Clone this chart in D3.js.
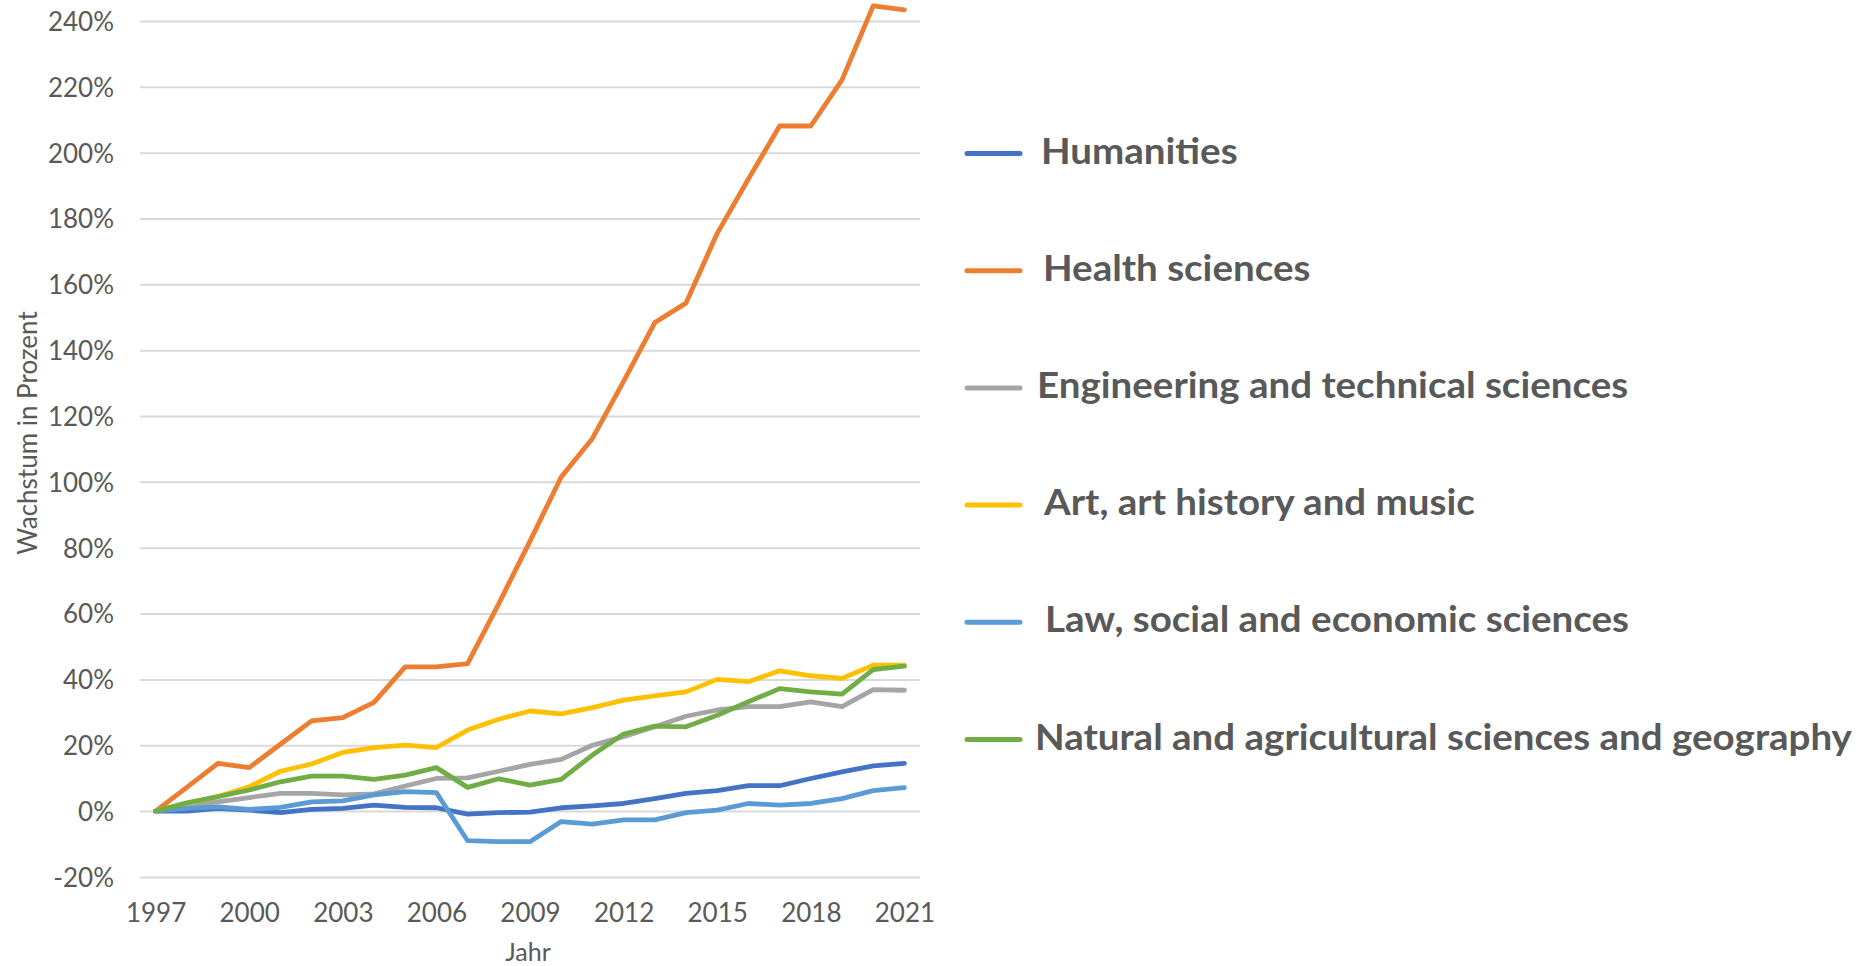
<!DOCTYPE html>
<html>
<head>
<meta charset="utf-8">
<script src="https://cdn.jsdelivr.net/npm/d3@7"></script>
<style>
  html, body { margin: 0; padding: 0; background: #ffffff; }
  svg { display: block; }
  text { font-family: Lato, "Open Sans", "DejaVu Sans", sans-serif; fill: #595959; }
</style>
</head>
<body>
<svg id="chart" width="1862" height="966"></svg>
<script>
// ---------- data ----------
const years = [1997, 1998, 1999, 2000, 2001, 2002, 2003, 2004, 2005, 2006, 2007, 2008,
               2009, 2010, 2011, 2012, 2013, 2014, 2015, 2016, 2017, 2018, 2019, 2020, 2021];
const xTickLabels = [1997, 2000, 2003, 2006, 2009, 2012, 2015, 2018, 2021];
const yTickValues = [-20, 0, 20, 40, 60, 80, 100, 120, 140, 160, 180, 200, 220, 240];

const seriesNames = [
  "Humanities",
  "Health sciences",
  "Engineering and technical sciences",
  "Art, art history and music",
  "Law, social and economic sciences",
  "Natural and agricultural sciences and geography"
];
const seriesColors = ["#4472C4", "#ED7D31", "#A5A5A5", "#FFC000", "#5B9BD5", "#70AD47"];

const humanities  = [0, 0, 0.8, 0.3, -0.5, 0.5, 0.8, 1.8, 1.1, 1.0, -0.9, -0.5, -0.3,
                     1.0, 1.6, 2.3, 3.8, 5.4, 6.2, 7.7, 7.7, 9.9, 11.9, 13.7, 14.5];
const health      = [0, 7.2, 14.5, 13.2, 20.3, 27.4, 28.4, 33.0, 43.8, 43.8, 44.8, 63.0, 82.0,
                     101.5, 113.2, 130.5, 148.4, 154.3, 175.5, 192.0, 208.1, 208.1, 222.1, 244.6, 243.4];
const engineering = [0, 1.7, 2.8, 4.1, 5.4, 5.4, 4.9, 5.2, 7.6, 9.9, 10.1, 12.1, 14.2,
                     15.7, 20.0, 22.6, 25.6, 28.8, 30.7, 31.7, 31.7, 33.2, 31.7, 36.9, 36.7];
const art         = [0, 2.3, 4.4, 7.4, 12.1, 14.3, 17.8, 19.3, 20.0, 19.3, 24.6, 27.9, 30.4,
                     29.5, 31.4, 33.7, 35.0, 36.2, 40.0, 39.3, 42.6, 41.1, 40.3, 44.3, 44.3];
const law         = [0, 0.8, 1.3, 0.5, 1.1, 2.8, 3.1, 4.9, 5.9, 5.6, -9.0, -9.3, -9.3,
                     -3.2, -4.0, -2.7, -2.7, -0.5, 0.3, 2.3, 1.8, 2.3, 3.8, 6.2, 7.1];
const natural     = [0, 2.5, 4.4, 6.4, 8.9, 10.6, 10.6, 9.6, 10.9, 13.2, 7.2, 9.8, 7.9,
                     9.6, 17.0, 23.4, 25.8, 25.6, 29.1, 33.2, 37.2, 36.2, 35.5, 43.0, 44.0];

const seriesValues = [humanities, health, engineering, art, law, natural];

// ---------- layout ----------
const svg = d3.select("#chart");
const plot = { left: 140, right: 920, top: 21.0, bottom: 876.9 };

const x = d3.scalePoint().domain(years).range([plot.left, plot.right]).padding(0.5);
const y = d3.scaleLinear().domain([-20, 240]).range([plot.bottom, plot.top]);

// gridlines + y labels via axis
const yAxis = d3.axisLeft(y)
  .tickValues(yTickValues)
  .tickSize(-(plot.right - plot.left))
  .tickPadding(26)
  .tickFormat(d => d + "%");

const gy = svg.append("g")
  .attr("transform", `translate(${plot.left},0)`)
  .call(yAxis);
gy.select(".domain").remove();
gy.selectAll(".tick line").attr("stroke", "#d9d9d9").attr("stroke-width", 2);
gy.selectAll(".tick text")
  .attr("font-size", 26)
  .attr("fill", "#595959")
  .attr("dy", "0.36em")
  .style("font-family", "Lato, 'Open Sans', sans-serif");

// x axis labels
const xAxis = d3.axisBottom(x)
  .tickValues(xTickLabels)
  .tickSize(0)
  .tickPadding(0)
  .tickFormat(d => String(d));
const gx = svg.append("g")
  .attr("transform", `translate(0,${plot.bottom})`)
  .call(xAxis);
gx.select(".domain").remove();
gx.selectAll(".tick text")
  .attr("font-size", 26)
  .attr("fill", "#595959")
  .attr("y", 45)
  .attr("dy", 0)
  .style("font-family", "Lato, 'Open Sans', sans-serif");

// axis titles
svg.append("text")
  .attr("transform", `translate(36.5,433) rotate(-90)`)
  .attr("text-anchor", "middle")
  .attr("font-size", 26)
  .text("Wachstum in Prozent");

svg.append("text")
  .attr("x", 528)
  .attr("y", 961)
  .attr("text-anchor", "middle")
  .attr("font-size", 25)
  .text("Jahr");

// lines
const line = d3.line()
  .x((d, i) => x(years[i]))
  .y(d => y(d));

svg.append("g")
  .selectAll("path")
  .data(seriesValues)
  .join("path")
  .attr("d", d => line(d))
  .attr("fill", "none")
  .attr("stroke", (d, i) => seriesColors[i])
  .attr("stroke-width", 4.8)
  .attr("stroke-linejoin", "round")
  .attr("stroke-linecap", "round");

// legend
const legendTop = 153.5, legendStep = 117.2;
const legendTextDx = [1041, 1043, 1037, 1044, 1045, 1035];
const legendSx = 1.07;

const lg = svg.append("g");
const items = lg.selectAll("g")
  .data(seriesNames)
  .join("g")
  .attr("transform", (d, i) => `translate(0,${legendTop + i * legendStep})`);

items.append("line")
  .attr("x1", 967).attr("x2", 1020)
  .attr("y1", 0).attr("y2", 0)
  .attr("stroke", (d, i) => seriesColors[i])
  .attr("stroke-width", 5)
  .attr("stroke-linecap", "round");

items.append("text")
  .attr("transform", (d, i) => `translate(${legendTextDx[i]},10) scale(${legendSx},1)`)
  .attr("font-size", 36)
  .attr("font-weight", "bold")
  .attr("fill", "#595959")
  .text(d => d);
</script>
</body>
</html>
